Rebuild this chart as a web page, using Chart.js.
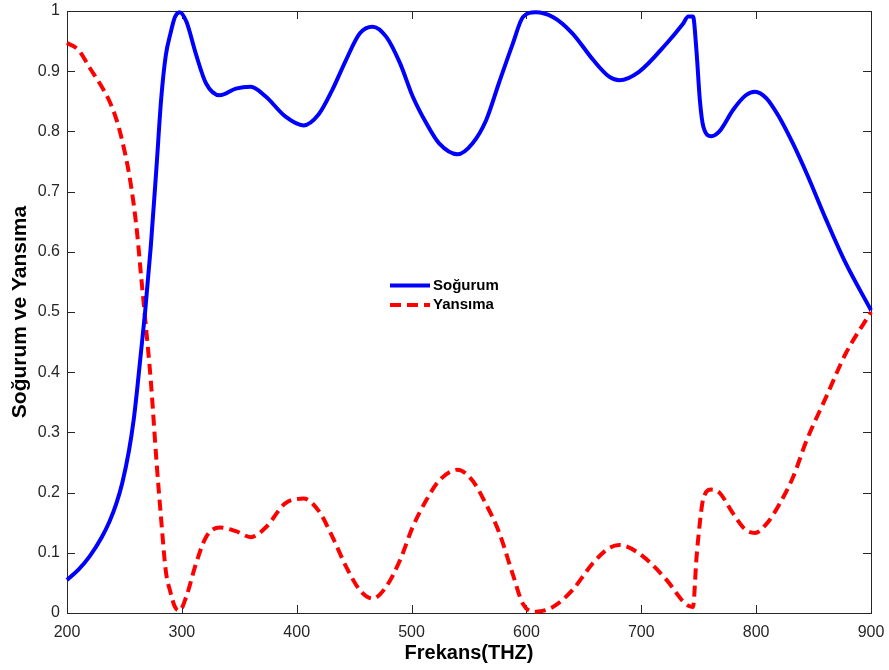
<!DOCTYPE html>
<html>
<head>
<meta charset="utf-8">
<script src="https://cdn.jsdelivr.net/npm/chart.js@4/dist/chart.umd.min.js"></script>
<style>
  html, body { margin: 0; padding: 0; background: #fff; }
  #kutu { width: 889px; height: 670px; }
</style>
</head>
<body>
<div id="kutu"><canvas id="grafik"></canvas></div>
<script>
// Frekans ekseni (THz) ve okunan degerler
const frekans = [200, 210, 220, 230, 237, 243, 248, 254, 258, 261, 264.5, 268, 273, 278, 282, 286, 290, 294, 298,
  304, 312, 321, 333, 347, 360, 373, 390, 406, 419, 431, 443, 455, 466, 478, 490, 501, 513, 524, 540,
  553, 565, 576, 588, 597, 608, 623, 640, 658, 672, 681, 698, 722, 736, 741, 745, 748, 751, 754, 761,
  768, 780, 791, 799, 809, 820, 832, 844, 861, 878, 900]

const sogurum = [0.055, 0.072, 0.095, 0.125, 0.152, 0.182, 0.215, 0.27, 0.32, 0.37, 0.435, 0.5, 0.61, 0.743, 0.854, 0.926, 0.962, 0.99, 0.998,
  0.982, 0.93, 0.88, 0.86, 0.871, 0.874, 0.858, 0.825, 0.81, 0.828, 0.869, 0.919, 0.963, 0.974, 0.957, 0.913, 0.858, 0.813, 0.78, 0.762,
  0.78, 0.819, 0.88, 0.945, 0.99, 0.998, 0.99, 0.963, 0.919, 0.891, 0.885, 0.899, 0.946, 0.978, 0.991, 0.991, 0.935, 0.852, 0.808, 0.792,
  0.8, 0.836, 0.86, 0.866, 0.855, 0.824, 0.78, 0.73, 0.653, 0.581, 0.503]

const yansima = [0.947, 0.935, 0.905, 0.875, 0.85, 0.82, 0.785, 0.73, 0.68, 0.632, 0.56, 0.49, 0.385, 0.25, 0.155, 0.07, 0.035, 0.01, 0.004,
  0.028, 0.08, 0.126, 0.142, 0.136, 0.126, 0.142, 0.182, 0.19, 0.17, 0.127, 0.077, 0.038, 0.024, 0.044, 0.088, 0.143, 0.188, 0.22, 0.238,
  0.22, 0.18, 0.135, 0.065, 0.015, 0.002, 0.01, 0.038, 0.083, 0.108, 0.113, 0.099, 0.055, 0.02, 0.012, 0.01, 0.09, 0.15, 0.19, 0.205,
  0.2, 0.165, 0.138, 0.133, 0.148, 0.18, 0.225, 0.287, 0.359, 0.431, 0.5]

const xEtiketleri = [200, 300, 400, 500, 600, 700, 800, 900]
const yEtiketleri = [0, 0.1, 0.2, 0.3, 0.4, 0.5, 0.6, 0.7, 0.8, 0.9, 1]

const eksenRengi = "#262626"
const yazi = "'Liberation Sans', Arial, sans-serif"

const noktalar = (ys) => frekans.map((f, i) => ({ x: f, y: ys[i] }))

// MATLAB tarzi kutu ve iceri bakan tik cizgileri
const kutuEksen = {
  id: "kutuEksen",
  beforeDatasetsDraw(chart) {
    const { ctx, chartArea: a, scales: { x, y } } = chart
    ctx.save()
    ctx.strokeStyle = eksenRengi
    ctx.lineWidth = 1
    ctx.beginPath()
    xEtiketleri.forEach((v) => {
      const px = Math.round(x.getPixelForValue(v)) + 0.5
      ctx.moveTo(px, a.bottom); ctx.lineTo(px, a.bottom - 8)
      ctx.moveTo(px, a.top); ctx.lineTo(px, a.top + 8)
    })
    yEtiketleri.forEach((v) => {
      const py = Math.round(y.getPixelForValue(v)) + 0.5
      ctx.moveTo(a.left, py); ctx.lineTo(a.left + 8, py)
      ctx.moveTo(a.right, py); ctx.lineTo(a.right - 8, py)
    })
    ctx.stroke()
    ctx.strokeRect(a.left + 0.5, a.top + 0.5, a.width, a.height)
    ctx.restore()
  },
}

// Grafik icindeki aciklama kutusu
const aciklama = {
  id: "aciklama",
  afterDatasetsDraw(chart) {
    const { ctx, chartArea: a } = chart
    const x0 = a.left + 323
    const satirlar = [a.top + 274.5, a.top + 294]
    ctx.save()
    chart.data.datasets.forEach((ds, i) => {
      const yy = satirlar[i]
      ctx.strokeStyle = ds.borderColor
      ctx.lineWidth = ds.borderWidth
      ctx.setLineDash(ds.borderDash || [])
      ctx.beginPath()
      ctx.moveTo(x0, yy); ctx.lineTo(x0 + 40, yy)
      ctx.stroke()
      ctx.setLineDash([])
      ctx.fillStyle = "#000"
      ctx.font = `bold 15px ${yazi}`
      ctx.textBaseline = "middle"
      ctx.textAlign = "left"
      ctx.fillText(ds.label, x0 + 43, yy)
    })
    ctx.restore()
  },
}

new Chart(document.getElementById("grafik"), {
  type: "line",
  data: {
    datasets: [
      {
        label: "Soğurum",
        data: noktalar(sogurum),
        borderColor: "#0000ff",
        borderWidth: 4,
        pointRadius: 0,
        cubicInterpolationMode: "monotone",
        clip: false,
      },
      {
        label: "Yansıma",
        data: noktalar(yansima),
        borderColor: "#ff0000",
        borderWidth: 4,
        borderDash: [11, 6],
        pointRadius: 0,
        cubicInterpolationMode: "monotone",
        clip: false,
      },
    ],
  },
  options: {
    responsive: true,
    maintainAspectRatio: false,
    animation: false,
    layout: { padding: { top: 11, right: 18, left: 0, bottom: 0 } },
    plugins: {
      legend: { display: false },
      tooltip: { enabled: false },
    },
    scales: {
      x: {
        type: "linear",
        min: 200,
        max: 900,
        afterFit: (s) => { s.height = 57; s.paddingLeft = 0; s.paddingRight = 0 },
        afterBuildTicks: (s) => { s.ticks = xEtiketleri.map((v) => ({ value: v })) },
        grid: { display: false, drawTicks: false },
        border: { display: false },
        ticks: {
          padding: 10,
          color: eksenRengi,
          font: { family: yazi, size: 16 },
          maxRotation: 0,
        },
        title: {
          display: true,
          text: "Frekans(THZ)",
          color: "#000",
          font: { family: yazi, size: 20, weight: "bold" },
          padding: { top: 0, bottom: 5 },
        },
      },
      y: {
        min: 0,
        max: 1,
        afterFit: (s) => { s.width = 67; s.paddingTop = 0; s.paddingBottom = 0 },
        afterBuildTicks: (s) => { s.ticks = yEtiketleri.map((v) => ({ value: v })) },
        grid: { display: false, drawTicks: false },
        border: { display: false },
        ticks: {
          padding: 7,
          color: eksenRengi,
          font: { family: yazi, size: 16 },
          callback: (v) => String(Math.round(v * 10) / 10),
        },
        title: {
          display: true,
          text: "Soğurum ve Yansıma",
          color: "#000",
          font: { family: yazi, size: 21, weight: "bold" },
          padding: { top: 8, bottom: 0 },
        },
      },
    },
  },
  plugins: [kutuEksen, aciklama],
})
</script>
</body>
</html>
